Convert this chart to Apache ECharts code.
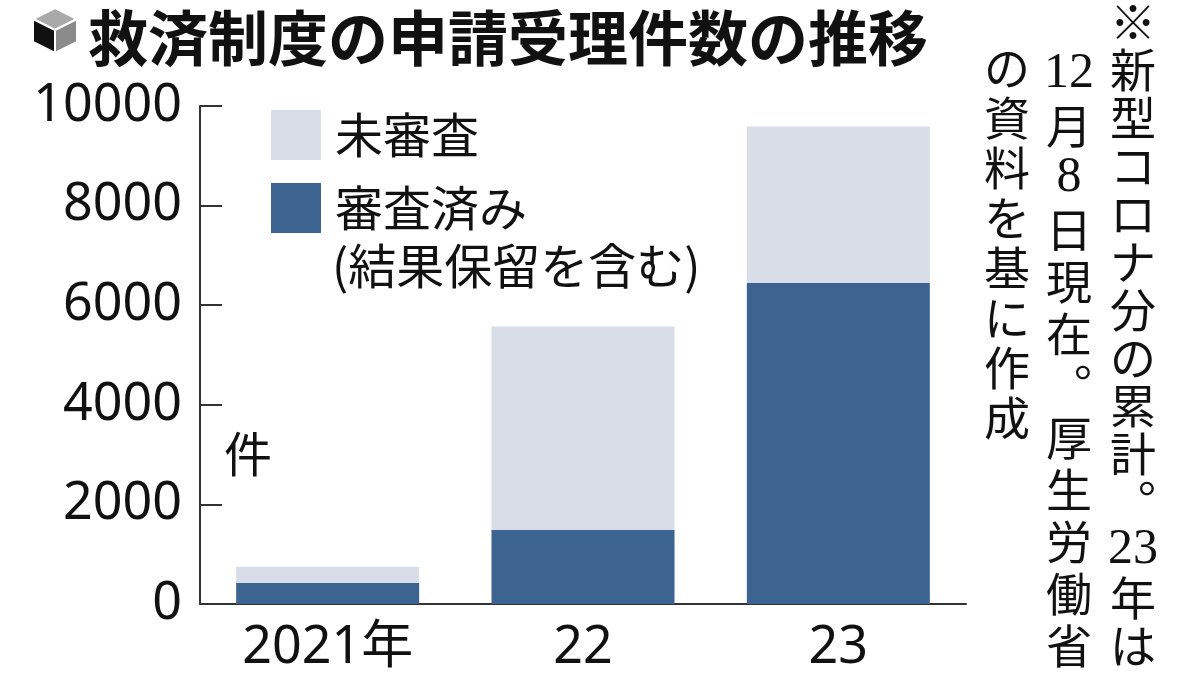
<!DOCTYPE html>
<html><head><meta charset="utf-8">
<script src="https://cdn.jsdelivr.net/npm/echarts@6/dist/echarts.min.js"></script>
<style>html,body{margin:0;padding:0;background:#fff;}#c{width:1200px;height:675px;}</style>
</head><body><div id="c"></div>
<script>
const categories = ['2021年', '22', '23'];
const reviewed = [420, 1490, 6450];      // 審査済み（結果保留を含む）
const unreviewed = [330, 4080, 3140];    // 未審査
const yTicks = [0, 2000, 4000, 6000, 8000, 10000];
const seriesNames = ['審査済み', '未審査'];
const noteCol1 = ['※', '新', '型', 'コ', 'ロ', 'ナ', '分', 'の', '累', '計', '︒', '23', '年', 'は'];
const noteCol2 = ['12', '月', '8', '日', '現', '在', '︒', '厚', '生', '労', '働', '省'];
const noteCol3 = ['の', '資', '料', 'を', '基', 'に', '作', '成'];

const SANS = '"Noto Sans", "Noto Sans CJK JP", sans-serif';
const JP = '"Noto Sans CJK JP", sans-serif';
const NOTE = '"Liberation Serif", "Noto Sans CJK JP", serif';
const DARK = '#3d6390', LIGHT = '#d9dde7', INK = '#111';

function column(chars, x, firstCenter, pitch) {
  return chars.map((ch, i) => {
    const isDigit = /^[0-9]+$/.test(ch);
    return {
      type: 'text', x: x, y: firstCenter + i * pitch,
      style: {text: ch, fontSize: isDigit ? 50 : 46, fill: INK,
              fontFamily: isDigit ? NOTE : JP, align: 'center', verticalAlign: 'middle'}
    };
  });
}

const chart = echarts.init(document.getElementById('c'), null, {renderer: 'canvas'});
chart.setOption({
  animation: false,
  backgroundColor: '#fff',
  grid: {left: 200, right: 234, top: 106, bottom: 71, containLabel: false},
  legend: {
    orient: 'vertical', left: 266, top: 105,
    itemWidth: 50, itemHeight: 50, itemGap: 23,
    icon: 'rect',
    data: [seriesNames[1], seriesNames[0]],
    textStyle: {fontSize: 48, color: INK, fontFamily: JP, padding: [0, 0, 0, 9]},
    selectedMode: false
  },
  xAxis: {
    type: 'category', data: categories,
    axisLine: {lineStyle: {color: '#333', width: 2}},
    axisTick: {show: false},
    axisLabel: {fontSize: 52, color: INK, fontFamily: SANS, margin: 18}
  },
  yAxis: {
    type: 'value', min: yTicks[0], max: yTicks[yTicks.length - 1], interval: 2000,
    axisLine: {show: true, lineStyle: {color: '#333', width: 2}},
    axisTick: {show: true, inside: true, length: 22, lineStyle: {color: '#333', width: 2}},
    splitLine: {show: false},
    axisLabel: {fontSize: 52, color: INK, fontFamily: SANS, margin: 18,
                formatter: v => String(v)}
  },
  series: [
    {name: seriesNames[0], type: 'bar', stack: 't', data: reviewed, barWidth: 183,
     itemStyle: {color: DARK}},
    {name: seriesNames[1], type: 'bar', stack: 't', data: unreviewed, barWidth: 183,
     itemStyle: {color: LIGHT}}
  ],
  graphic: [
    // cube icon
    {type: 'polygon', shape: {points: [[55, 8], [77, 19], [55, 30], [33, 19]]},
     style: {fill: '#a9a9a9', stroke: '#fff', lineWidth: 2}},
    {type: 'polygon', shape: {points: [[33, 19], [55, 30], [55, 53], [33, 42]]},
     style: {fill: '#111', stroke: '#fff', lineWidth: 2}},
    {type: 'polygon', shape: {points: [[55, 30], [77, 19], [77, 42], [55, 53]]},
     style: {fill: '#8a8a8a', stroke: '#fff', lineWidth: 2}},
    {type: 'text', left: 88, top: 8,
     style: {text: '救済制度の申請受理件数の推移', fontSize: 60, fontWeight: 'bold', fill: INK, fontFamily: JP}},
    {type: 'text', x: 332, y: 266,
     style: {text: '(結果保留を含む)', fontSize: 48, fill: INK, fontFamily: JP, verticalAlign: 'middle', align: 'left'}},
    {type: 'text', x: 248, y: 454,
     style: {text: '件', fontSize: 48, fill: INK, fontFamily: JP, verticalAlign: 'middle', align: 'center'}}
  ].concat(column(noteCol1, 1133, 22, 48))
   .concat(column(noteCol2, 1069, 74, 52))
   .concat(column(noteCol3, 1007, 68, 50))
});
</script></body></html>
